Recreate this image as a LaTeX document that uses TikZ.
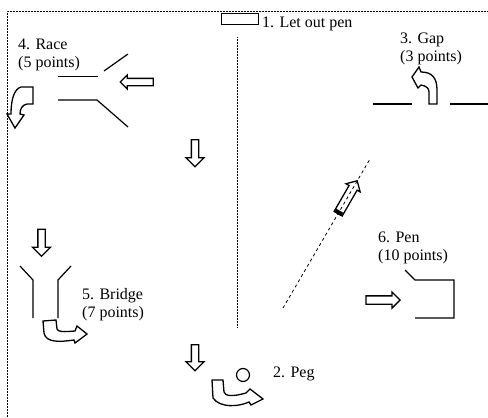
\documentclass[tikz,border=0pt]{standalone}
\usepackage{fontspec}
\setmainfont{Liberation Serif}
\usetikzlibrary{shapes.arrows,calc}

\begin{document}
\begin{tikzpicture}
[x=1pt,y=-1pt,%
  wall/.style={line width=1.2pt},%
  fence/.style={densely dotted,line width=0.5pt},%
  lbl/.style={anchor=base west,inner sep=0pt,align=left,font=\fontsize{16}{18}\selectfont,%
    execute at begin node={\baselineskip=18pt\relax}},%
  move/.style={single arrow,draw,line width=1.3pt,inner sep=3pt,%
    minimum width=0pt,single arrow head extend=5.5pt},%
  turn/.style={draw,line width=1.3pt,line join=miter}]
\useasboundingbox (0,0) rectangle (488,418);
\draw[fence] (7,418) -- (7,11) -- (488,11);
\draw[fence] (237,37) -- (237,328);
\node[draw,wall,inner sep=0pt,minimum width=37pt,minimum height=11pt] (gate) at (240,19) {};
\node[lbl] (lout) at (262,27) {1. Let out pen};
\node[lbl] (lrace) at (18,67) {4. Race\\(5 points)};
\node[lbl] (lgap) at (400,61) {3. Gap\\(3 points)};
\node[lbl] (lbridge) at (82,317) {5. Bridge\\(7 points)};
\node[lbl] (lpen) at (378,260) {6. Pen\\(10 points)};
\node[lbl] (lpeg) at (273,377) {2. Peg};
\draw[line width=0.8pt] (58,76) -- (98,76);
\draw[wall] (104,71) -- (128,54);
\draw[wall] (58,100) -- (97,100) -- (128,127);
\draw[wall] (20,266) -- (33,280) -- (33,318);
\draw[wall] (71,266) -- (58,280) -- (58,318);
\draw[wall] (373,104) -- (412,104);
\draw[wall] (450,104) -- (488,104);
\draw[wall] (405,270) -- (415,280) -- (454,280) -- (454,318) -- (415,318);
\node[move,shape border rotate=180,minimum height=33pt,single arrow head extend=3.5pt] (intorace) at (138.5,82) {};
\node[move,shape border rotate=270,minimum height=27pt] (downA) at (195,151.5) {};
\node[move,shape border rotate=270,minimum height=27pt] (downB) at (41.5,241) {};
\node[move,shape border rotate=270,minimum height=26pt] (downC) at (195,356) {};
\node[move,shape border rotate=0,minimum height=34pt,inner sep=3.5pt,single arrow head extend=4pt] (intopen) at (381,300) {};
\coordinate (dashlo) at (283,308);
\coordinate (dashhi) at (370,159);
\draw[dashed,line width=0.8pt] (dashlo) -- (dashhi);
\node[move,rotate=60,minimum height=38pt,inner sep=4pt,single arrow head extend=3.5pt] (climb) at ($(dashlo)!0.73!(dashhi)$) {};
\draw[line width=8pt] (climb.tail) -- ($(climb.tail)!4pt!(climb.tip)$);
\node[circle,draw,line width=1.2pt,inner sep=0pt,minimum size=13pt] (peg) at (243,375) {};
\draw[turn] (33,87) -- (33,104) -- (27,104) .. controls (22,105) and (20,109) .. (20,114)
  -- (24,115) -- (15,128) -- (7,114) -- (11,114) .. controls (11,100) and (14,89) .. (21,87) -- cycle;
\draw[turn] (43,321) -- (56,320) -- (57,329) .. controls (58,332) and (63,332) .. (75,331)
  -- (77,326) -- (87,334) -- (75,343) -- (74,340) .. controls (60,342) and (46,343) .. (44,333) -- cycle;
\draw[turn] (212,380) -- (223,380) -- (224,392) .. controls (225,396) and (232,397) .. (246,393)
  -- (250,389) -- (263,399) -- (251,405) -- (249,402) .. controls (238,407) and (220,408) .. (213,398) -- cycle;
\draw[turn] (429,104) -- (429,92) .. controls (429,88) and (426,86) .. (421,85)
  -- (418,88) -- (412,77) -- (419,67) -- (421,72) .. controls (432,72) and (437,78) .. (437,90) -- (437,104) -- cycle;
\end{tikzpicture}
\end{document}
